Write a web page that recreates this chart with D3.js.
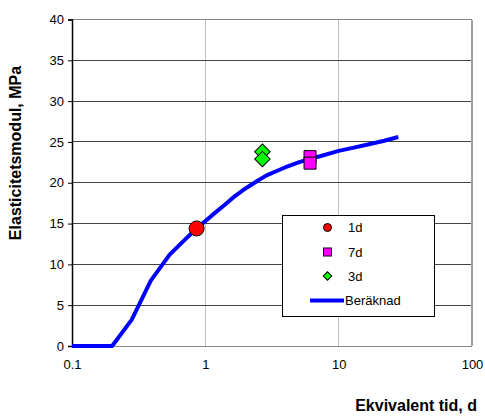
<!DOCTYPE html>
<html><head><meta charset="utf-8">
<script src="https://cdn.jsdelivr.net/npm/d3@7"></script>
<style>body{margin:0;background:#fff}svg{display:block;font-family:"Liberation Sans",Arial,sans-serif}</style>
</head><body><svg id="c" width="485" height="417"></svg>
<script>
const curveDays = [0.1, 0.2, 0.28, 0.39, 0.54, 0.7, 0.86, 1.0, 1.12, 1.4, 1.62, 2.0, 2.5, 2.88, 3.5, 4.0, 5.13, 6.0, 7.25, 8.6, 10, 13, 17.2, 22, 28];
const curveE    = [0, 0, 3.2, 8.0, 11.2, 13.0, 14.4, 15.3, 16.0, 17.3, 18.2, 19.3, 20.3, 20.9, 21.5, 21.9, 22.55, 22.9, 23.25, 23.6, 23.9, 24.3, 24.75, 25.15, 25.6];
const d1Days = [0.86], d1E = [14.4];
const d7Days = [6.1, 6.1], d7E = [23.2, 22.4];
const d3Days = [2.68, 2.68], d3E = [23.8, 22.9];
const xTicks = [0.1, 1, 10, 100];
const xTickLabels = ["0.1", "1", "10", "100"];
const yTicks = [0, 5, 10, 15, 20, 25, 30, 35, 40];
const legendLabels = ["1d", "7d", "3d", "Beräknad"];

const svg = d3.select("#c");
const L = 72, R = 472, T = 19.5, B = 346;
const x = d3.scaleLog().domain([0.1, 100]).range([L, R]);
const y = d3.scaleLinear().domain([0, 40]).range([B, T]);

svg.append("g").selectAll("line").data(xTicks.slice(1, 3)).join("line")
  .attr("x1", d => x(d)).attr("x2", d => x(d)).attr("y1", T).attr("y2", B)
  .attr("stroke", "#c0c0c0").attr("stroke-width", 1).attr("shape-rendering", "crispEdges");
svg.append("g").selectAll("line").data(yTicks.slice(1)).join("line")
  .attr("x1", L).attr("x2", R).attr("y1", d => y(d)).attr("y2", d => y(d))
  .attr("stroke", d => d === 40 ? "#888" : "#444").attr("stroke-width", 1).attr("shape-rendering", "crispEdges");
svg.append("line").attr("x1", R).attr("x2", R).attr("y1", T).attr("y2", B)
  .attr("stroke", "#a0a0a0").attr("stroke-width", 1.5).attr("shape-rendering", "crispEdges");
svg.append("line").attr("x1", L).attr("x2", R).attr("y1", B).attr("y2", B)
  .attr("stroke", "#888").attr("stroke-width", 1).attr("shape-rendering", "crispEdges");

const yAxis = d3.axisLeft(y).tickValues(yTicks).tickSize(4).tickPadding(4).tickFormat(d3.format("d"));
const ga = svg.append("g").attr("transform", `translate(${L},0)`).call(yAxis);
ga.select(".domain").attr("stroke", "#000").attr("stroke-width", 1.5);
ga.selectAll(".tick line").attr("stroke", "#000");
ga.selectAll("text").attr("font-size", 13).attr("fill", "#000").attr("font-family", "Liberation Sans, Arial, sans-serif");

const xAxis = d3.axisBottom(x).tickValues(xTicks).tickSize(0).tickPadding(14).tickFormat((d, i) => xTickLabels[i]);
const gx = svg.append("g").attr("transform", `translate(0,${B})`).call(xAxis);
gx.select(".domain").remove();
gx.selectAll("text").attr("font-size", 13).attr("fill", "#000").attr("font-family", "Liberation Sans, Arial, sans-serif");

const line = d3.line().x(d => x(d[0])).y(d => y(d[1]));
svg.append("path").datum(curveDays.map((d, i) => [d, curveE[i]]))
  .attr("d", line).attr("fill", "none").attr("stroke", "#0000ff").attr("stroke-width", 4)
  .attr("stroke-linejoin", "round");

const sq = d3.symbol().type(d3.symbolSquare).size(144);
const di = d3.symbol().type(d3.symbolSquare).size(120);
svg.append("g").selectAll("path").data(d3.zip(d3Days, d3E)).join("path")
  .attr("d", di).attr("transform", d => `translate(${x(d[0])},${y(d[1])}) rotate(45)`)
  .attr("fill", "#00ff00").attr("stroke", "#000").attr("stroke-width", 1);
svg.append("g").selectAll("path").data(d3.zip(d7Days, d7E)).join("path")
  .attr("d", sq).attr("transform", d => `translate(${x(d[0])},${y(d[1])})`)
  .attr("fill", "#ff00ff").attr("stroke", "#000").attr("stroke-width", 1);
svg.append("g").selectAll("circle").data(d3.zip(d1Days, d1E)).join("circle")
  .attr("cx", d => x(d[0])).attr("cy", d => y(d[1])).attr("r", 7.5)
  .attr("fill", "#ff0000").attr("stroke", "#000").attr("stroke-width", 1);

const lg = svg.append("g");
lg.append("rect").attr("x", 282.5).attr("y", 215.5).attr("width", 152).attr("height", 101)
  .attr("fill", "#fff").attr("stroke", "#000").attr("stroke-width", 1);
const rowsY = [227.5, 252, 276, 300.5];
lg.append("circle").attr("cx", 327.5).attr("cy", rowsY[0]).attr("r", 4)
  .attr("fill", "#ff0000").attr("stroke", "#000").attr("stroke-width", 1);
lg.append("rect").attr("x", 323.5).attr("y", rowsY[1] - 4).attr("width", 8).attr("height", 8)
  .attr("fill", "#ff00ff").attr("stroke", "#000").attr("stroke-width", 1);
lg.append("path").attr("d", d3.symbol().type(d3.symbolSquare).size(36))
  .attr("transform", `translate(327.5,${rowsY[2]}) rotate(45)`)
  .attr("fill", "#00ff00").attr("stroke", "#000").attr("stroke-width", 1);
lg.append("line").attr("x1", 310).attr("x2", 344).attr("y1", rowsY[3]).attr("y2", rowsY[3])
  .attr("stroke", "#0000ff").attr("stroke-width", 4);
lg.selectAll("text").data(legendLabels).join("text")
  .attr("x", (d, i) => i === 3 ? 345 : 348).attr("y", (d, i) => rowsY[i] + 4.5)
  .attr("font-size", 13).attr("fill", "#000").text(d => d);

svg.append("text").attr("x", 477).attr("y", 411).attr("text-anchor", "end")
  .attr("font-size", 16).attr("font-weight", "bold").text("Ekvivalent tid, d");
svg.append("text").attr("transform", "translate(21,153) rotate(-90)").attr("text-anchor", "middle")
  .attr("font-size", 16).attr("font-weight", "bold").text("Elasticitetsmodul, MPa");
</script></body></html>
